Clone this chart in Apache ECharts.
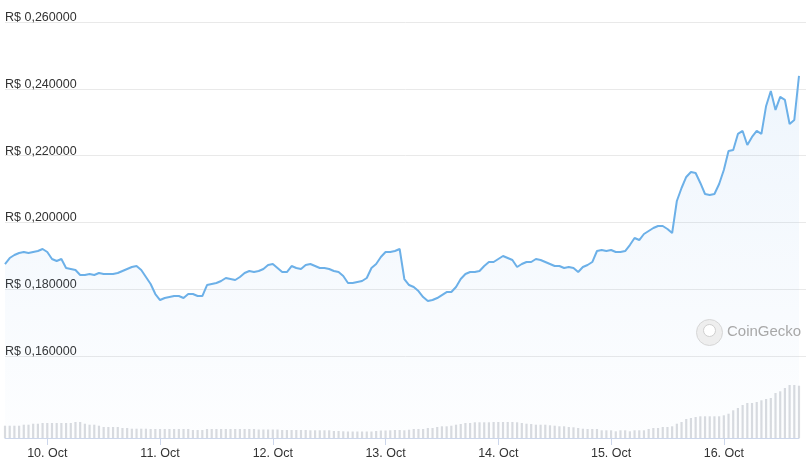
<!DOCTYPE html>
<html>
<head>
<meta charset="utf-8">
<script src="https://cdn.jsdelivr.net/npm/echarts@6/dist/echarts.min.js"></script>
<style>
html,body{margin:0;padding:0;background:#fff;}
#c{width:806px;height:464px;}
</style>
</head>
<body>
<div id="c"></div>
<script>
// Hourly samples starting 9 Oct 15:00 (UTC)
const startTime = Date.UTC(2024, 9, 9, 15, 0, 0);
const hourMs = 3600 * 1000;

const priceValues = [
0.18752,0.18932,0.19022,0.19082,0.19112,0.19082,0.19112,0.19142,0.19202,0.19112,
0.18902,0.18842,0.18902,0.18632,0.18602,0.18572,0.18422,0.18422,0.18452,0.18422,
0.18482,0.18452,0.18452,0.18452,0.18482,0.18542,0.18602,0.18662,0.18692,0.18572,
0.18362,0.18152,0.17852,0.17672,0.17732,0.17762,0.17792,0.17792,0.17732,0.17852,
0.17852,0.17792,0.17792,0.18122,0.18152,0.18182,0.18242,0.18332,0.18302,0.18272,
0.18362,0.18482,0.18542,0.18512,0.18542,0.18602,0.18722,0.18752,0.18632,0.18512,
0.18512,0.18692,0.18632,0.18602,0.18722,0.18752,0.18692,0.18632,0.18632,0.18602,
0.18542,0.18512,0.18392,0.18182,0.18182,0.18212,0.18242,0.18332,0.18632,0.18752,
0.18962,0.19112,0.19112,0.19142,0.19202,0.18302,0.18122,0.18062,0.17942,0.17762,
0.17642,0.17672,0.17732,0.17822,0.17912,0.17912,0.18062,0.18302,0.18452,0.18512,
0.18512,0.18542,0.18692,0.18812,0.18812,0.18902,0.18992,0.18932,0.18872,0.18662,
0.18752,0.18812,0.18812,0.18902,0.18872,0.18812,0.18752,0.18692,0.18692,0.18632,
0.18662,0.18632,0.18512,0.18662,0.18722,0.18812,0.19142,0.19172,0.19142,0.19172,
0.19112,0.19112,0.19142,0.19322,0.19532,0.19472,0.19652,0.19742,0.19832,0.19892,
0.19892,0.19802,0.19682,0.20642,0.21032,0.21362,0.21512,0.21482,0.21182,0.20852,
0.20822,0.20852,0.21152,0.21572,0.22142,0.22172,0.22652,0.22742,0.22322,0.22562,
0.22742,0.22652,0.23492,0.23942,0.23372,0.23762,0.23672,0.22952,0.23072,0.24392
];

const volumeValues = [
12.3,12.3,12.3,12.3,13.3,13.3,14.3,14.3,15,
15,15,15,15,15,15,
16,16,
14.3,13.3,13.3,
12.3,11,11,11,11,
10,10,9.3,9.3,9.3,9.3,
9,9,9,9,9,9,
9,9,9,8,8,8,9,9,9,9,9,9,9,9,9,9,9,8.5,8.5,8.5,8.5,8.5,8,8,
8,8,8,8,7.7,7.7,7.7,7.7,7.7,7,7,6.7,6.5,6.5,6.5,6.5,6.5,6.5,7,7.5,7.5,7.7,8,8,
7.7,8.3,9,9,9,10,10,11,11.7,11.7,12.3,13.3,14,15,15,15.7,15.7,15.7,15.7,16,16,16,16,16,15.7,15,
14.3,14,13.3,13.3,13.3,12.7,12.3,11.7,11.7,11,10.7,10,9.3,9,9,9,
7.7,7.7,7.7,6.7,7.7,7.7,6.7,7.7,7.7,7.7,9,10,10,11,11,11.7,14.3,16,19,20,21,21.7,21.7,21.7,21.7,21.7,22.7,24.3,27.7,30,33,35,35,36,37.7,39,40,45,46.7,50,53,53,52.3
];

const priceTicks = [0.16, 0.18, 0.20, 0.22, 0.24, 0.26];
const monthNames = ['Jan','Feb','Mar','Apr','May','Jun','Jul','Aug','Sep','Oct','Nov','Dec'];

const n = priceValues.length;
const categories = [];
for (let i = 0; i < n; i++) categories.push(startTime + i * hourMs);

function isMidnight(idx) {
  const d = new Date(categories[idx]);
  return d.getUTCHours() === 0;
}
function dayLabel(v) {
  const d = new Date(Number(v));
  return d.getUTCDate() + '. ' + monthNames[d.getUTCMonth()];
}
function priceLabel(v) {
  return 'R$ ' + v.toFixed(6).replace('.', ',');
}

const FONT = 'Liberation Sans, Arial, sans-serif';
const gridLeft = 5, gridRight = 7;
const pxPerUnit = 3335;
const priceTop = 22.3;
const baseY = 438;
const priceMin = 0.26 - (baseY - priceTop) / pxPerUnit;

const chart = echarts.init(document.getElementById('c'), null, {renderer: 'canvas'});
chart.setOption({
  animation: false,
  backgroundColor: '#ffffff',
  grid: [
    {left: gridLeft, right: gridRight, top: priceTop, height: baseY - priceTop},
    {left: gridLeft, right: 0, top: priceTop, height: 0.10 * pxPerUnit},
    {left: gridLeft, right: gridRight, top: baseY - 60, height: 60}
  ],
  xAxis: [
    {gridIndex: 0, type: 'category', data: categories, boundaryGap: false, show: false},
    {gridIndex: 1, type: 'value', min: 0, max: 1, show: false},
    {gridIndex: 2, type: 'category', data: categories, boundaryGap: false,
      axisLine: {show: true, lineStyle: {color: '#ccd6eb', width: 1}},
      axisTick: {show: true, length: 7, interval: function (i) { return isMidnight(i); }, lineStyle: {color: '#ccd6eb'}},
      axisLabel: {show: true, interval: function (i) { return isMidnight(i); }, formatter: dayLabel,
        color: '#333333', fontSize: 12.5, fontFamily: FONT, margin: 9},
      splitLine: {show: false}
    }
  ],
  yAxis: [
    {gridIndex: 0, type: 'value', min: priceMin, max: 0.26, show: false, splitLine: {show: false}},
    {gridIndex: 1, type: 'value', min: 0.16, max: 0.26, interval: 0.02,
      axisLine: {show: false}, axisTick: {show: false},
      splitLine: {show: true, lineStyle: {color: '#e9e9e9', width: 1}},
      axisLabel: {inside: true, margin: 0, formatter: priceLabel, color: '#333333', fontSize: 12.5,
        fontFamily: FONT, verticalAlign: 'bottom', align: 'left', lineHeight: 9, padding: [0, 0, 0, 0]}
    },
    {gridIndex: 2, type: 'value', min: 0, max: 60, show: false, splitLine: {show: false}}
  ],
  series: [
    {
      type: 'bar', xAxisIndex: 2, yAxisIndex: 2, data: volumeValues,
      barWidth: 2.2, itemStyle: {color: '#d9dbdf'}, z: 1
    },
    {
      type: 'line', xAxisIndex: 0, yAxisIndex: 0, data: priceValues,
      showSymbol: false, smooth: false,
      lineStyle: {color: '#6cb0e8', width: 2},
      areaStyle: {
        color: new echarts.graphic.LinearGradient(0, 0, 0, 1, [
          {offset: 0, color: 'rgba(110,170,235,0.16)'},
          {offset: 1, color: 'rgba(110,170,235,0.02)'}
        ])
      },
      z: 3
    }
  ],
  graphic: [
    {type: 'circle', left: 696, top: 319, shape: {r: 13},
      style: {fill: '#eeeeee', stroke: '#d6d6d6', lineWidth: 1}, z: 10},
    {type: 'circle', left: 703, top: 324, shape: {r: 6},
      style: {fill: '#ffffff', stroke: '#cfcfcf', lineWidth: 1}, z: 11},
    {type: 'text', left: 727, top: 324,
      style: {text: 'CoinGecko', fill: '#a8a8a8', font: '15px ' + FONT}, z: 10}
  ]
});
</script>
</body>
</html>
